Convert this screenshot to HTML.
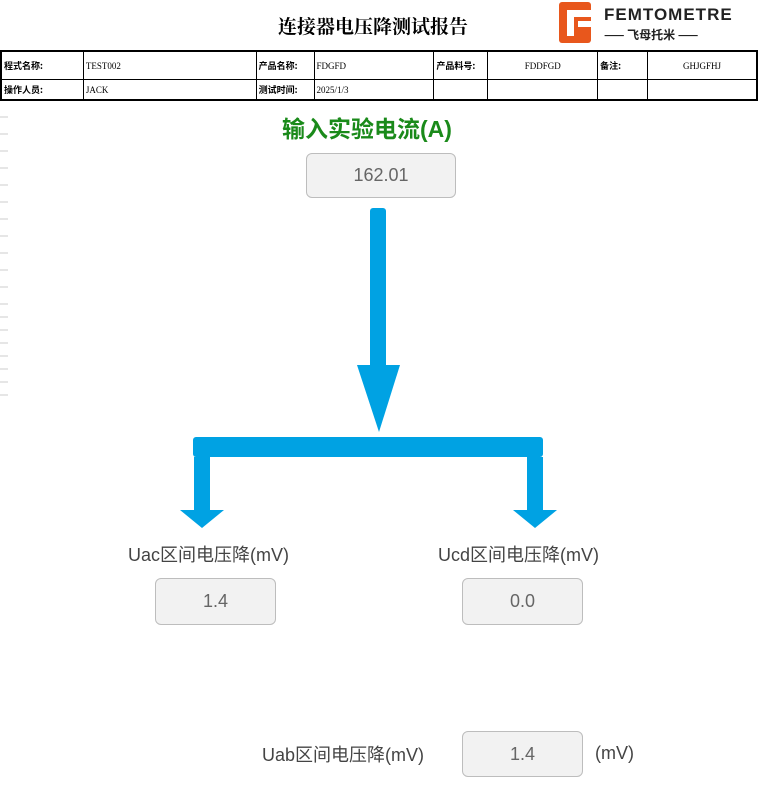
<!DOCTYPE html>
<html><head><meta charset="utf-8"><style>
body{margin:0;width:758px;height:786px;background:#fff;position:relative;overflow:hidden;font-family:"Liberation Sans","Noto Sans CJK SC",sans-serif}
.a{position:absolute}
.box{position:absolute;background:#f2f2f2;border:1px solid #bdbdbd;border-radius:6px;color:#666;font-size:18px;display:flex;align-items:center;justify-content:center}
.lbl{position:absolute;font-size:18px;color:#444;white-space:nowrap}
table{position:absolute;left:0;top:50px;border-collapse:collapse;font-family:"Liberation Serif","Noto Serif CJK SC",serif;font-size:9px;border:2px solid #000}
td{border:1px solid #000;padding:0 2px;height:27px}
tr:nth-child(2) td{height:19px}
td.b{font-weight:bold;font-family:"Noto Sans CJK SC",sans-serif}
</style></head><body>
<div class="a" style="left:278px;top:12px;font-size:19px;font-family:'Noto Serif CJK SC',serif;font-weight:bold">连接器电压降测试报告</div>
<div class="a" style="left:559px;top:2px;width:32px;height:41px;background:#e8571c;border-radius:3px"></div>
<div class="a" style="left:567px;top:10px;width:24px;height:7px;background:#fff"></div>
<div class="a" style="left:567px;top:10px;width:7px;height:26px;background:#fff"></div>
<div class="a" style="left:578px;top:21px;width:13px;height:6px;background:#fff"></div>
<div class="a" style="left:604px;top:5px;font-size:17px;letter-spacing:1px;color:#222;font-weight:bold">FEMTOMETRE</div>
<div class="a" style="left:604px;top:26px;font-size:12px;color:#222;font-family:'Noto Sans CJK SC',sans-serif;font-weight:bold;white-space:nowrap">——&nbsp;飞母托米&nbsp;——</div>
<table>
<tr><td class="b" style="width:77px">程式名称:</td><td style="width:168px">TEST002</td><td class="b" style="width:53px">产品名称:</td><td style="width:115px">FDGFD</td><td class="b" style="width:49px">产品料号:</td><td style="width:105px;text-align:center">FDDFGD</td><td class="b" style="width:45px">备注:</td><td style="width:104px;text-align:center">GHJGFHJ</td></tr>
<tr><td class="b">操作人员:</td><td>JACK</td><td class="b">测试时间:</td><td>2025/1/3</td><td></td><td></td><td></td><td></td></tr>
</table>
<svg class="a" style="left:0;top:100px" width="10" height="686">
<g stroke="#ccc" stroke-width="1">
<line x1="0" y1="17" x2="8" y2="17"/><line x1="0" y1="34" x2="8" y2="34"/><line x1="0" y1="51" x2="8" y2="51"/><line x1="0" y1="68" x2="8" y2="68"/><line x1="0" y1="85" x2="8" y2="85"/><line x1="0" y1="102" x2="8" y2="102"/><line x1="0" y1="119" x2="8" y2="119"/><line x1="0" y1="136" x2="8" y2="136"/><line x1="0" y1="153" x2="8" y2="153"/><line x1="0" y1="170" x2="8" y2="170"/><line x1="0" y1="187" x2="8" y2="187"/><line x1="0" y1="204" x2="8" y2="204"/><line x1="0" y1="217" x2="8" y2="217"/><line x1="0" y1="230" x2="8" y2="230"/><line x1="0" y1="243" x2="8" y2="243"/><line x1="0" y1="256" x2="8" y2="256"/><line x1="0" y1="269" x2="8" y2="269"/><line x1="0" y1="282" x2="8" y2="282"/><line x1="0" y1="295" x2="8" y2="295"/>
</g></svg>
<div class="a" style="left:282px;top:110px;font-size:23px;font-weight:bold;color:#1a8a1a">输入实验电流(A)</div>
<div class="box" style="left:306px;top:153px;width:148px;height:43px">162.01</div>
<svg class="a" style="left:0;top:0" width="758" height="786">
<g fill="#00a2e3">
<rect x="370" y="208" width="16" height="160" rx="3"/>
<polygon points="357,365 400,365 379,432"/>
<rect x="193" y="437" width="350" height="20" rx="3"/>
<rect x="194" y="457" width="16" height="55"/>
<polygon points="180,510 224,510 202,528"/>
<rect x="527" y="457" width="16" height="55"/>
<polygon points="513,510 557,510 535,528"/>
</g></svg>
<div class="lbl" style="left:128px;top:541px">Uac区间电压降(mV)</div>
<div class="lbl" style="left:438px;top:541px">Ucd区间电压降(mV)</div>
<div class="box" style="left:155px;top:578px;width:119px;height:45px">1.4</div>
<div class="box" style="left:462px;top:578px;width:119px;height:45px">0.0</div>
<div class="lbl" style="left:262px;top:741px">Uab区间电压降(mV)</div>
<div class="box" style="left:462px;top:731px;width:119px;height:44px">1.4</div>
<div class="lbl" style="left:595px;top:743px">(mV)</div>
</body></html>
